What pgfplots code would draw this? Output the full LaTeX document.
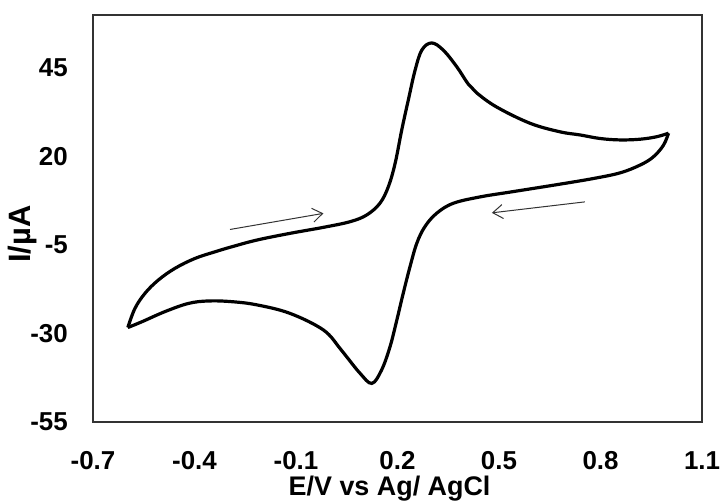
\documentclass[border=0pt]{standalone}
\usepackage{pgfplots}
\pgfplotsset{compat=1.18}
\usepackage{fontspec}
\setmainfont{Liberation Sans}
\usetikzlibrary{arrows.meta}
\begin{document}
\begin{tikzpicture}
\begin{axis}[
  scale only axis, width=609bp, height=407bp,
  xmin=-0.7, xmax=1.1, ymin=-55, ymax=60,
  xtick={-0.7,-0.4,-0.1,0.2,0.5,0.8,1.1},
  xticklabels={-0.7,-0.4,-0.1,0.2,0.5,0.8,1.1},
  ytick={-55,-30,-5,20,45},
  yticklabels={-55,-30,-5,20,45},
  major tick length=0pt,
  axis line style={black!80, line width=1.5bp},
  tick label style={font=\fontsize{26}{30}\selectfont\bfseries},
  xticklabel style={inner sep=0pt, anchor=north, yshift=-29bp},
  yticklabel style={inner sep=0pt, anchor=east, xshift=-25bp},
  xlabel={E/V vs Ag/ AgCl}, ylabel={I/µA},
  xlabel style={font=\fontsize{27}{30}\selectfont\bfseries, at={(axis description cs:0.487,0)}, anchor=base, yshift=-73bp, inner sep=0pt},
  ylabel style={font=\fontsize{31}{34}\selectfont\bfseries, at={(axis description cs:-0.115,0.462)}, anchor=center, inner sep=0pt},
  clip=false,
]
% forward (anodic) scan
\addplot[black, line width=3.2bp, smooth, tension=0.6] coordinates {
(-0.597,-28.3) (-0.576,-22.9) (-0.546,-18.6) (-0.507,-14.9) (-0.458,-11.6)
(-0.399,-8.8) (-0.339,-6.9) (-0.290,-5.5) (-0.216,-3.6) (-0.118,-1.7)
(-0.019,0.0) (0.060,1.6) (0.109,3.5) (0.148,6.8) (0.173,11.5)
(0.193,18.1) (0.2125,27.5) (0.232,36.0) (0.252,44.4) (0.272,50.1)
(0.301,52.1) (0.335,50.1) (0.375,45.4) (0.409,40.5) (0.434,38.0)
(0.493,34.0) (0.592,29.4) (0.680,27.0) (0.740,26.1) (0.799,25.1)
(0.858,24.7) (0.917,24.9) (0.966,25.6) (1.001,26.6)
};
% reverse (cathodic) scan
\addplot[black, line width=3.2bp, smooth, tension=0.6] coordinates {
(1.001,26.6) (0.986,23.2) (0.956,19.9) (0.917,17.6) (0.858,15.4)
(0.779,13.8) (0.680,12.2) (0.542,10.1) (0.444,8.6) (0.365,6.8)
(0.316,4.0) (0.281,0.2) (0.257,-4.5) (0.237,-11.1) (0.217,-18.6)
(0.198,-26.2) (0.178,-33.7) (0.153,-40.3) (0.124,-44.1) (0.089,-41.2)
(0.050,-36.6) (0.030,-34.2) (-0.019,-29.0) (-0.118,-24.3) (-0.216,-21.9)
(-0.290,-21.0) (-0.359,-20.8) (-0.418,-21.5) (-0.487,-23.8) (-0.556,-26.7)
(-0.597,-28.3)
};
\draw[black!80, line width=1bp, -{Straight Barb[length=10bp,width=14bp]}] (axis cs:-0.295,-0.6) -- (axis cs:-0.019,3.95);
\draw[black!80, line width=1bp, -{Straight Barb[length=10bp,width=14bp]}] (axis cs:0.754,7.2) -- (axis cs:0.479,4.1);
\end{axis}
\pgfresetboundingbox
\path ([xshift=-93bp,yshift=-80bp]current axis.south west) rectangle ([xshift=19bp,yshift=15bp]current axis.north east);
\end{tikzpicture}
\end{document}
